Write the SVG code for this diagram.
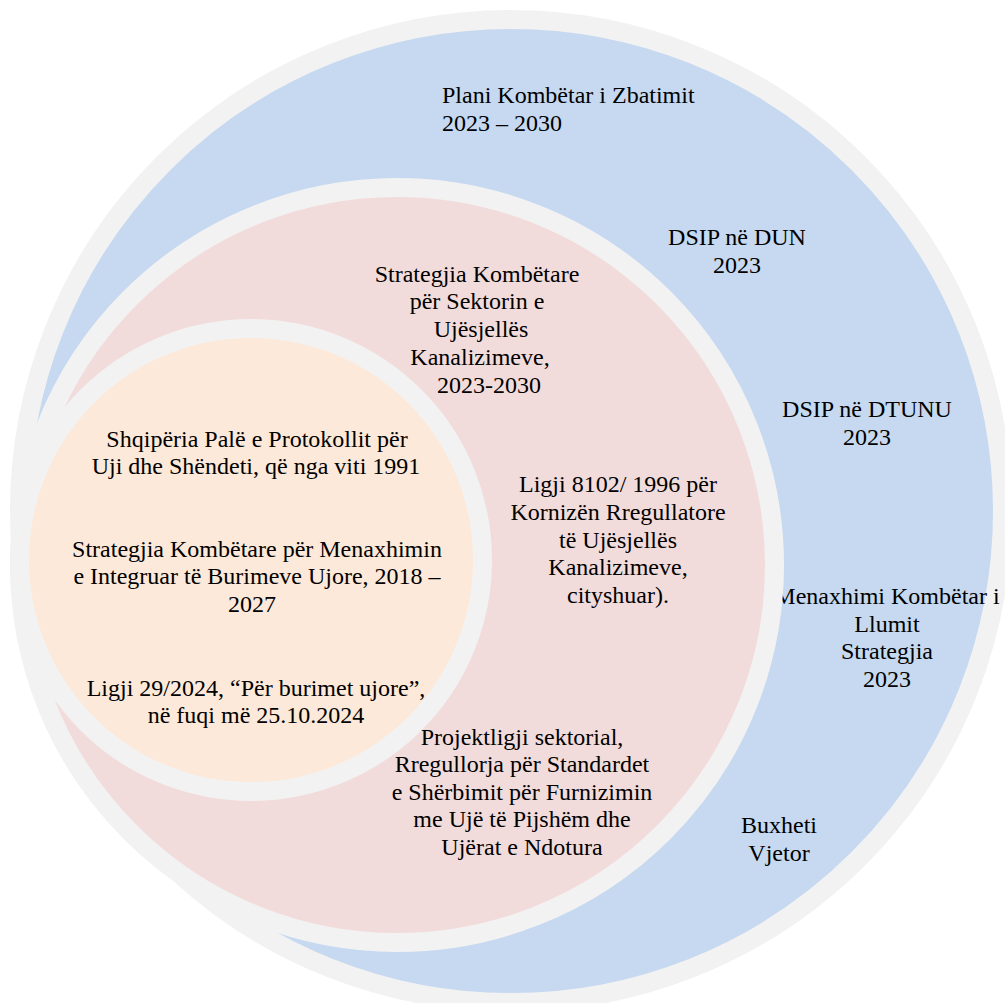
<svg xmlns="http://www.w3.org/2000/svg" width="1005" height="1003" viewBox="0 0 1005 1003">
<style>
.ring{stroke:#F2F2F2;stroke-width:19}
.outer{fill:#C6D9F0}
.middle{fill:#F2DCDB}
.inner{fill:#FDE9D9}
.t{font-size:24px;fill:#000}
.c{text-anchor:middle}
</style>
<rect width="1005" height="1003" fill="#FFFFFF"/>
<g id="outer-circle">
<circle class="ring outer" cx="511" cy="511" r="491.5"/>
<g class="t" font-family="Liberation Serif, Times New Roman, serif">
<text x="442" y="103">Plani Kombëtar i Zbatimit</text>
<text x="442" y="131">2023 – 2030</text>
<text class="c" x="737" y="245">DSIP në DUN</text>
<text class="c" x="737" y="273">2023</text>
<text class="c" x="867" y="417">DSIP në DTUNU</text>
<text class="c" x="867" y="445">2023</text>
<text class="c" x="887" y="604">Menaxhimi Kombëtar i</text>
<text class="c" x="887" y="632">Llumit</text>
<text class="c" x="887" y="659">Strategjia</text>
<text class="c" x="887" y="687">2023</text>
<text class="c" x="779" y="833">Buxheti</text>
<text class="c" x="779" y="861">Vjetor</text>
</g>
</g>
<g id="middle-circle">
<circle class="ring middle" cx="397" cy="565" r="377.5"/>
<g class="t" font-family="Liberation Serif, Times New Roman, serif">
<text class="c" x="477" y="282">Strategjia Kombëtare</text>
<text class="c" x="477" y="309">për Sektorin e</text>
<text class="c" x="481" y="337">Ujësjellës</text>
<text class="c" x="480" y="365">Kanalizimeve,</text>
<text class="c" x="489" y="393">2023-2030</text>
<text class="c" x="618" y="492">Ligji 8102/ 1996 për</text>
<text class="c" x="618" y="520">Kornizën Rregullatore</text>
<text class="c" x="618" y="548">të Ujësjellës</text>
<text class="c" x="618" y="575">Kanalizimeve,</text>
<text class="c" x="618" y="603">cityshuar).</text>
<text class="c" x="522" y="745">Projektligji sektorial,</text>
<text class="c" x="522" y="772">Rregullorja për Standardet</text>
<text class="c" x="522" y="800">e Shërbimit për Furnizimin</text>
<text class="c" x="522" y="827">me Ujë të Pijshëm dhe</text>
<text class="c" x="522" y="855">Ujërat e Ndotura</text>
</g>
</g>
<g id="inner-circle">
<circle class="ring inner" cx="251" cy="560" r="231.5"/>
<g class="t" font-family="Liberation Serif, Times New Roman, serif">
<text class="c" x="257" y="447">Shqipëria Palë e Protokollit për</text>
<text class="c" x="256" y="474">Uji dhe Shëndeti, që nga viti 1991</text>
<text class="c" x="257" y="557">Strategjia Kombëtare për Menaxhimin</text>
<text class="c" x="257" y="584">e Integruar të Burimeve Ujore, 2018 –</text>
<text class="c" x="252" y="612">2027</text>
<text class="c" x="256" y="696">Ligji 29/2024, “Për burimet ujore”,</text>
<text class="c" x="256" y="723">në fuqi më 25.10.2024</text>
</g>
</g>
<g id="connectors"/>
</svg>
